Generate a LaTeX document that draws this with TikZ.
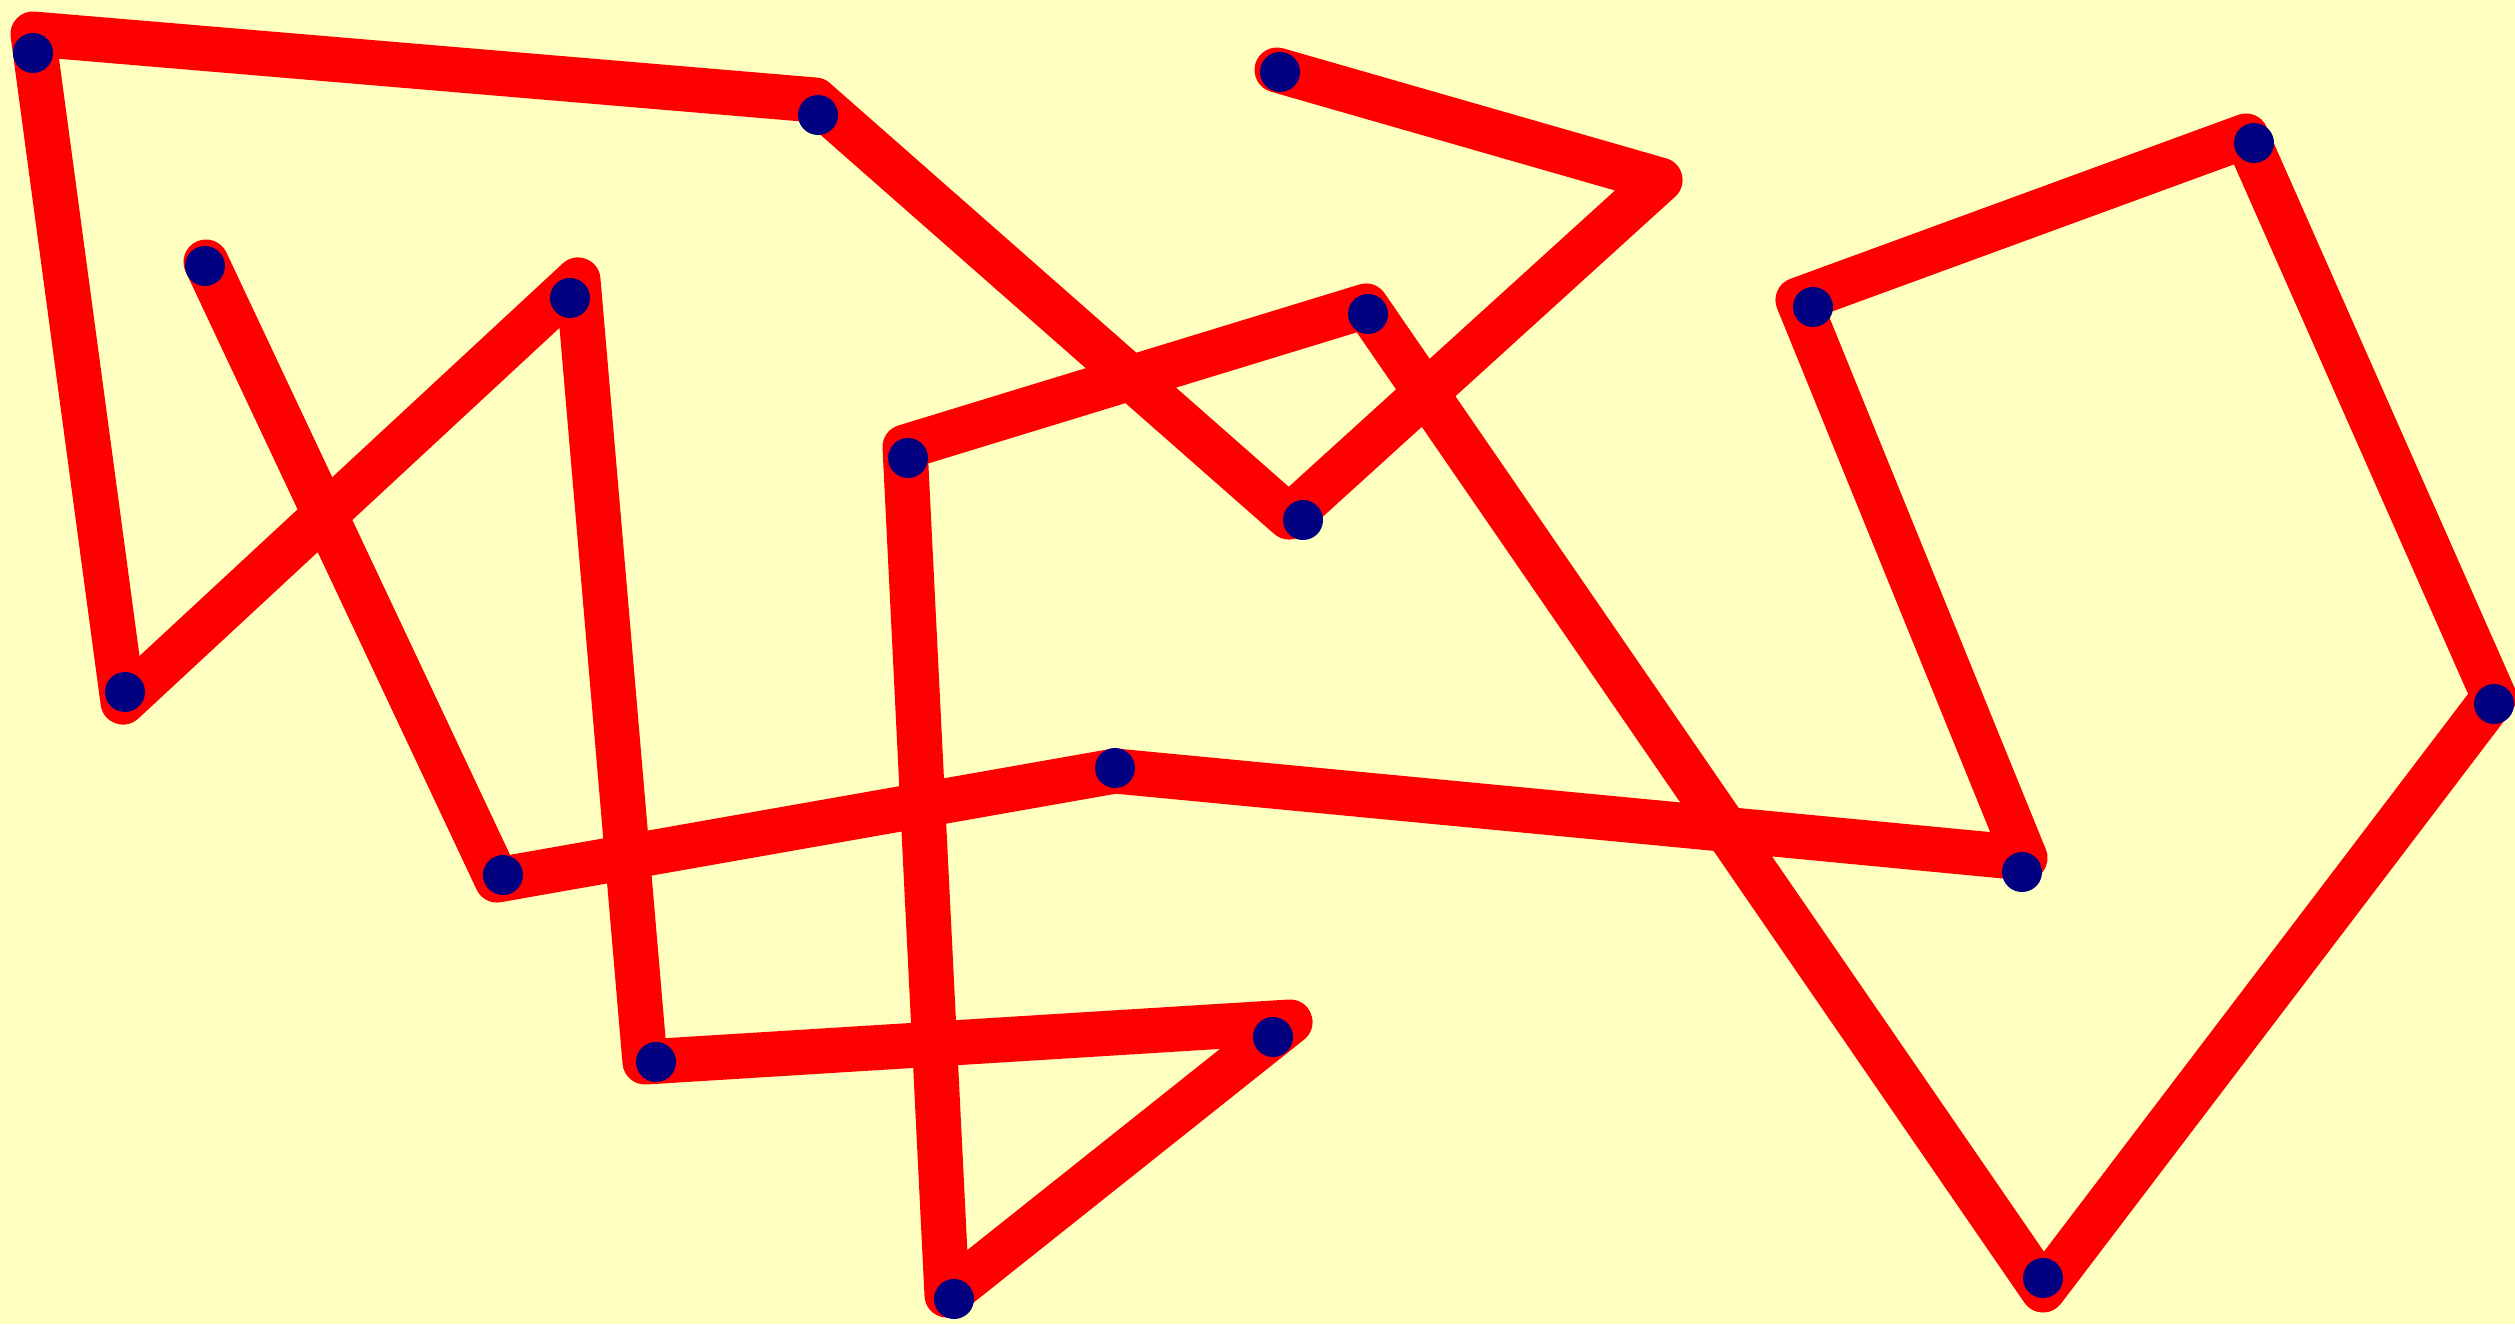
\documentclass[tikz,border=0pt]{standalone}
\usepackage{tikz}
\usetikzlibrary{positioning}
\definecolor{paleyellow}{HTML}{FFFFC0}
\definecolor{tourred}{HTML}{FF0000}
\definecolor{stopnavy}{HTML}{000080}
\tikzset{
  tour/.style={draw=tourred, line width=0.45cm, line cap=round, line join=round},
  stop/.style={circle, fill=stopnavy, inner sep=0pt, minimum size=0.40cm}
}
\begin{document}
\begin{tikzpicture}[x=0.01cm, y=-0.01cm]
    \fill[paleyellow] (0,0) rectangle (2515,1324);
    \useasboundingbox (0,0) rectangle (2515,1324);
    % corners of the red path, in drawing order
    \foreach \n/\x/\y in {1/1277/70, 2/1660/180, 3/1289/517, 4/815/100, 5/33/34,
                          6/123/702, 7/578/280, 8/645/1062, 9/1290/1022, 10/947/1295,
                          11/905/447, 12/1366/306, 13/2043/1290, 14/2494/697, 15/2246/136,
                          16/1798/300, 17/2025/858, 18/1115/771, 19/497/880, 20/206/262}
      \coordinate (c\n) at (\x,\y);
    \draw[tour] (c1) \foreach \n in {2,...,20}{ -- (c\n) };
    % the stops
    \foreach \n/\x/\y in {1/1280/72, 2/1303/520, 3/818/115, 4/33/53, 5/125/692,
                          6/570/298, 7/656/1062, 8/1273/1037, 9/954/1299, 10/908/458,
                          11/1368/314, 12/2043/1278, 13/2494/704, 14/2254/143, 15/1813/307,
                          16/2022/872, 17/1115/768, 18/503/875, 19/205/266}
      \node[stop] (s\n) at (\x,\y) {};
\end{tikzpicture}
\end{document}
